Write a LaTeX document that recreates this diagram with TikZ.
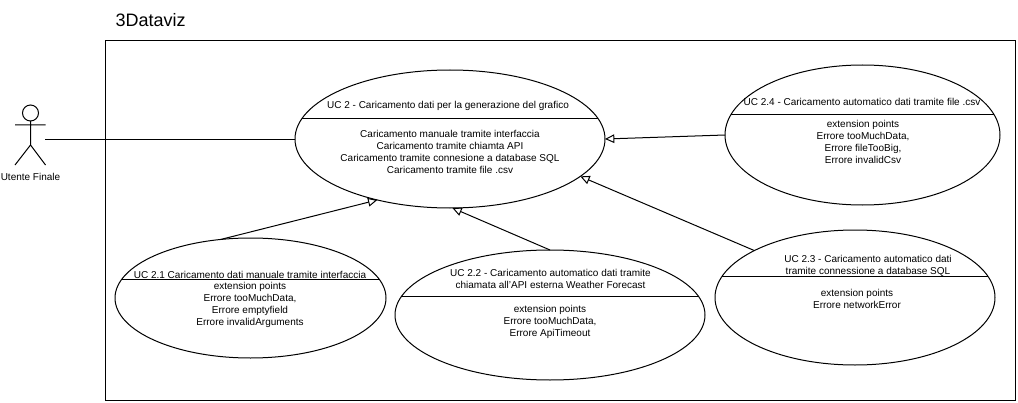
\documentclass[tikz,border=0pt]{standalone}
\usepackage{fontspec}
\setmainfont{Liberation Sans}
\usetikzlibrary{arrows.meta,shapes.geometric}
\newlength{\pxlength}
\setlength{\pxlength}{0.75pt}
\begin{document}
\begin{tikzpicture}[x=1\pxlength,y=-1\pxlength,line width=1\pxlength,
  uc/.style n args={2}{ellipse,draw,minimum width=#1\pxlength,minimum height=#2\pxlength,inner sep=0pt,outer sep=0pt},
  uctext/.style={font=\fontsize{7.5pt}{9pt}\selectfont,align=center,inner sep=0pt},
  extend/.style={-{Triangle[open,length=7pt,width=6.5pt]}}]
\path[use as bounding box,fill=white] (0,0) rectangle (1018,403);
% system boundary
\node[draw,minimum width=910\pxlength,minimum height=360\pxlength,inner sep=0pt,outer sep=0pt] (sys) at (560.5,220.5) {};
\node[anchor=west,inner sep=0pt,font=\fontsize{13.5pt}{15pt}\selectfont] (title) at (115,20) {3Dataviz};
% actor
\node[draw,circle,minimum size=16\pxlength,inner sep=0pt,outer sep=0pt] (head) at (30.5,113) {};
\coordinate (hip) at (30.5,145);
\coordinate (armL) at (15,125);
\coordinate (armR) at (45.5,125);
\coordinate (legL) at (15,165);
\coordinate (legR) at (45.5,165);
\coordinate (port) at (45,139);
\draw (head.south) -- (hip) (armL) -- (armR) (legL) -- (hip) -- (legR);
\node[uctext] (actor) at (30.5,177) {Utente Finale};
% use cases
\node[uc={310}{138}] (uc2) at (450,139) {};
\node[uc={275}{140}] (uc24) at (862.5,135) {};
\node[uc={271}{120}] (uc21) at (250.5,298) {};
\node[uc={310}{130}] (uc22) at (550,315) {};
\node[uc={280}{135}] (uc23) at (855,297.5) {};
% dividers
\draw (uc2.172) -- (uc2.8);
\draw (uc24.171) -- (uc24.9);
\draw (uc21.172) -- (uc21.8);
\draw (uc22.173) -- (uc22.7);
\draw (uc23.171) -- (uc23.9);
% texts
\node[uctext] (uc2head) at (448,105.5) {UC 2 - Caricamento dati per la generazione del grafico};
\node[uctext] (uc2body) at (450,151.5) {Caricamento manuale tramite interfaccia\\Caricamento tramite chiamta API\\Caricamento tramite connesione a database SQL\\Caricamento tramite file .csv};
\node[uctext] (uc24head) at (862,101.5) {UC 2.4 - Caricamento automatico dati tramite file .csv};
\node[uctext] (uc24body) at (863,141.5) {extension points\\Errore tooMuchData,\\Errore fileTooBig,\\Errore invalidCsv};
\node[uctext] (uc21head) at (250,275) {UC 2.1 Caricamento dati manuale tramite interfaccia};
\node[uctext] (uc21body) at (250,305) {extension points\\Errore tooMuchData,\\Errore emptyfield\\Errore invalidArguments};
\node[uctext] (uc22head) at (550.5,278.5) {UC 2.2 - Caricamento automatico dati tramite\\chiamata all'API esterna Weather Forecast};
\node[uctext] (uc22body) at (550,322) {extension points\\Errore tooMuchData,\\Errore ApiTimeout};
\node[uctext] (uc23head) at (868,266) {UC 2.3 - Caricamento automatico dati\\tramite connessione a database SQL};
\node[uctext] (uc23body) at (857,298.5) {extension points\\Errore networkError};
% connectors
\draw (port) -- (uc2.west);
\draw[extend] (uc21.117) -- (uc2.220);
\draw[extend] (uc22.north) -- (uc2.272);
\draw[extend] (uc23.155) -- (uc2.344.5);
\draw[extend] (uc24.west) -- (uc2.east);
\end{tikzpicture}
\end{document}
